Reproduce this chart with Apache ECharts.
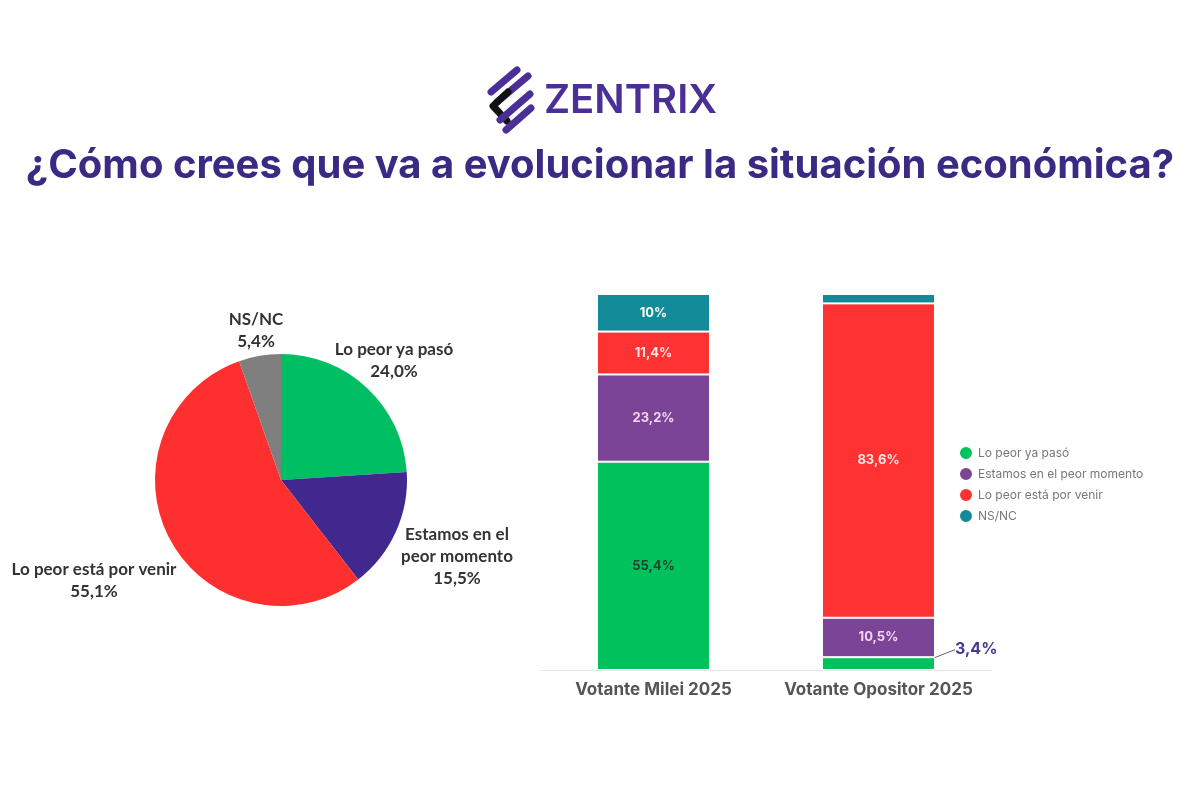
<!DOCTYPE html>
<html>
<head>
<meta charset="utf-8">
<script src="https://cdn.jsdelivr.net/npm/echarts@6/dist/echarts.min.js"></script>
<style>
  html, body { margin: 0; padding: 0; background: #fff; }
  #chart { width: 1200px; height: 800px; }
</style>
</head>
<body>
<div id="chart"></div>
<script>
// datos
const answers = ['Lo peor ya pasó', 'Estamos en el peor momento', 'Lo peor está por venir', 'NS/NC']
const pieLabels = ['Lo peor ya pasó', 'Estamos en el\npeor momento', 'Lo peor está por venir', 'NS/NC']
const pieValues = [24.0, 15.5, 55.1, 5.4]

const voters = ['Votante Milei 2025', 'Votante Opositor 2025']
const pasoValues = [55.4, 3.4]
const peorMomentoValues = [23.2, 10.5]
const porVenirValues = [11.4, 83.6]
const nsncValues = [10, 2.5]

const pieColors = ['#00bf62', '#40288f', '#fe302f', '#7f7f7f']
const barColors = ['#00c25c', '#7b4496', '#fe3232', '#128a98']

const pieCenter = [281, 480]
// posición de las etiquetas del pie respecto al centro
const pieLabelOffsets = [[113, -119], [176, 77], [-187, 101], [-25, -149]]

const fmt = v => String(v).replace('.', ',') + '%'

const myChart = echarts.init(document.getElementById('chart'))

const barLabel = color => ({
  show: true,
  position: 'inside',
  color: color,
  fontFamily: 'Inter',
  fontWeight: 'bold',
  fontSize: 13,
  formatter: p => fmt(p.value)
})

const option = {
  backgroundColor: '#fff',
  title: {
    text: '¿Cómo crees que va a evolucionar la situación económica?',
    left: 'center',
    top: 141,
    textStyle: { fontFamily: 'Inter', fontSize: 40, fontWeight: 'bold', color: '#3b2a83' }
  },
  graphic: [
    // logo
    { type: 'line', shape: { x1: 491, y1: 92, x2: 517, y2: 70 }, style: { stroke: '#4a2f96', lineWidth: 7, lineCap: 'round' } },
    { type: 'line', shape: { x1: 497, y1: 102, x2: 528, y2: 76 }, style: { stroke: '#4a2f96', lineWidth: 7, lineCap: 'round' } },
    { type: 'polyline', shape: { points: [[508, 92], [493, 106], [507, 121]] }, style: { stroke: '#111', lineWidth: 7, lineCap: 'round', lineJoin: 'round', fill: null } },
    { type: 'line', shape: { x1: 500, y1: 120, x2: 530, y2: 94 }, style: { stroke: '#4a2f96', lineWidth: 7, lineCap: 'round' } },
    { type: 'line', shape: { x1: 506, y1: 130, x2: 531, y2: 108 }, style: { stroke: '#4a2f96', lineWidth: 7, lineCap: 'round' } },
    {
      type: 'text', left: 544, top: 81,
      style: { text: 'ZENTRIX', fontFamily: 'Inter', fontSize: 40, fontWeight: 600, fill: '#4a2f96' }
    }
  ],
  legend: {
    orient: 'vertical',
    left: 953,
    top: 440,
    icon: 'circle',
    itemWidth: 14,
    itemHeight: 14,
    itemGap: 5,
    data: answers,
    textStyle: { color: '#777', fontFamily: 'Inter', fontSize: 12 }
  },
  grid: { left: 541, width: 450, top: 294, bottom: 130 },
  xAxis: {
    type: 'category',
    data: voters,
    axisTick: { show: false },
    axisLine: { lineStyle: { color: '#e6e6e6' } },
    axisLabel: { interval: 0, color: '#555', fontFamily: 'Inter', fontWeight: 'bold', fontSize: 17, margin: 11 }
  },
  yAxis: { type: 'value', min: 0, max: 100, show: false },
  series: [
    {
      type: 'pie',
      center: pieCenter,
      radius: 126,
      startAngle: 90,
      clockwise: true,
      legendHoverLink: false,
      label: {
        show: true,
        position: 'outside',
        overflow: 'none',
        color: '#333',
        fontFamily: 'Lato',
        fontWeight: 'bold',
        fontSize: 17,
        lineHeight: 22,
        align: 'center',
        formatter: p => pieLabels[p.dataIndex] + '\n' + p.value.toFixed(1).replace('.', ',') + '%'
      },
      labelLine: { show: false },
      labelLayout: p => {
        const o = pieLabelOffsets[p.dataIndex]
        return { x: pieCenter[0] + o[0], y: pieCenter[1] + o[1], align: 'center', verticalAlign: 'middle' }
      },
      data: answers.map((n, i) => ({ name: n, value: pieValues[i], itemStyle: { color: pieColors[i] } }))
    },
    {
      name: answers[0],
      type: 'bar',
      stack: 'votos',
      barWidth: 113,
      itemStyle: { color: barColors[0], borderColor: '#fff', borderWidth: 1 },
      label: barLabel('#1c4530'),
      labelLayout: p => (p.dataIndex === 1 ? { dx: 18, dy: -14 } : {}),
      data: pasoValues.map((v, i) => i === 1
        ? {
            value: v,
            label: { position: 'right', distance: 2, color: '#4b3a8f', fontSize: 16 },
            labelLine: { show: true, lineStyle: { color: '#666', width: 1 } }
          }
        : v)
    },
    {
      name: answers[1],
      type: 'bar',
      stack: 'votos',
      itemStyle: { color: barColors[1], borderColor: '#fff', borderWidth: 1 },
      label: barLabel('#f4d6f2'),
      data: peorMomentoValues
    },
    {
      name: answers[2],
      type: 'bar',
      stack: 'votos',
      itemStyle: { color: barColors[2], borderColor: '#fff', borderWidth: 1 },
      label: barLabel('#ffe4e4'),
      data: porVenirValues
    },
    {
      name: answers[3],
      type: 'bar',
      stack: 'votos',
      itemStyle: { color: barColors[3], borderColor: '#fff', borderWidth: 1 },
      label: barLabel('#ffffff'),
      data: nsncValues.map((v, i) => (i === 1 ? { value: v, label: { show: false } } : v))
    }
  ]
}

myChart.setOption(option)
</script>
</body>
</html>
